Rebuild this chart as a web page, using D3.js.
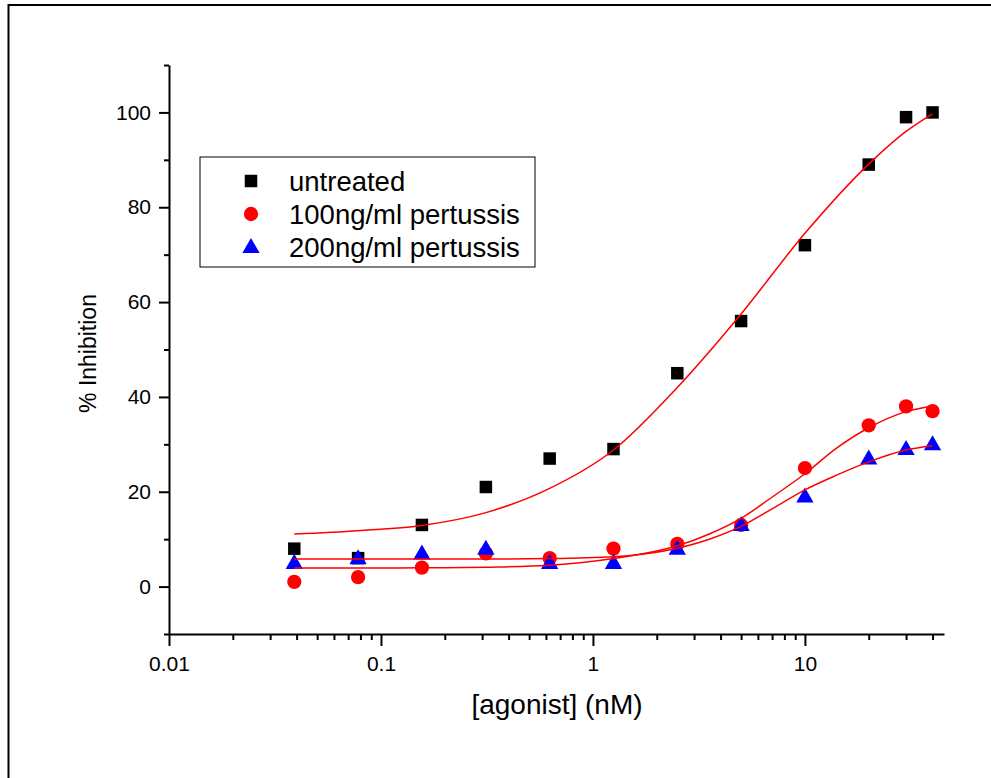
<!DOCTYPE html>
<html>
<head>
<meta charset="utf-8">
<script src="https://cdn.jsdelivr.net/npm/d3@7/dist/d3.min.js"></script>
<style>
  html, body { margin: 0; padding: 0; background: #fff; }
  svg { display: block; font-family: "Liberation Sans", Arial, sans-serif; }
</style>
</head>
<body>
<svg id="chart" width="991" height="778"></svg>
<script>
// ---- data ----
const concentrations = [0.039, 0.078, 0.156, 0.3125, 0.625, 1.25, 2.5, 5, 10, 20, 30, 40];
const untreated     = [8, 6, 13, 21, 27, 29, 45, 56, 72, 89, 99, 100];
const pertussis100  = [1, 2, 4, 7, 6, 8, 9, 13, 25, 34, 38, 37];
const pertussis200  = [5, 6, 7, 8, 5, 5, 8, 13, 19, 27, 29, 30];

// fitted curves
const fitUntreatedX = [0.039, 0.078, 0.156, 0.3125, 0.625, 1.25, 2.5, 5, 10, 20, 30, 40];
const fitUntreatedY = [11.1, 11.8, 12.9, 15.6, 20.7, 28.8, 42, 57.5, 74.5, 89.1, 96, 99.7];
const fit100X = [0.039, 0.078, 0.156, 0.3125, 0.625, 1.25, 2.5, 3.54, 5, 7.07, 10, 14.1, 20, 30, 40];
const fit100Y = [3.9, 3.9, 3.95, 4.1, 4.5, 5.9, 8.6, 11.1, 14.4, 19, 23.8, 29.2, 33.5, 36.9, 38.1];
const fit200X = [0.039, 0.078, 0.156, 0.3125, 0.625, 1.25, 2.5, 3.54, 5, 7.07, 10, 14.1, 20, 30, 40];
const fit200Y = [5.8, 5.8, 5.8, 5.8, 5.9, 6.3, 8.1, 10, 12.7, 16.5, 20.4, 23.5, 26.3, 28.8, 29.7];

const seriesNames = ["untreated", "100ng/ml pertussis", "200ng/ml pertussis"];
const xTickValues = [0.01, 0.1, 1, 10];
const xTickLabels = ["0.01", "0.1", "1", "10"];
const yTickValues = [0, 20, 40, 60, 80, 100];
const yMinorValues = [-10, 10, 30, 50, 70, 90, 110];
const xDomain = [0.01, 45.3];
const yDomain = [-10, 110];
const xTitle = "[agonist] (nM)";
const yTitle = "% Inhibition";

// ---- drawing ----
const svg = d3.select("#chart");
const x = d3.scaleLog().domain(xDomain).range([169, 944]);
const y = d3.scaleLinear().domain(yDomain).range([634, 65]);

// outer frame
svg.append("rect").attr("x", 8.5).attr("y", 5).attr("width", 1000).attr("height", 800)
  .attr("fill", "none").attr("stroke", "#000").attr("stroke-width", 2);

// minor x ticks
const xMinor = [];
[0.01, 0.1, 1, 10].forEach(d => { for (let k = 2; k <= 9; k++) { const v = d * k; if (v <= xDomain[1]) xMinor.push(v); } });

const gx = svg.append("g").attr("transform", `translate(0,${y(-10)})`);
gx.call(d3.axisBottom(x).tickValues(xMinor).tickFormat("").tickSizeInner(6).tickSizeOuter(0));
gx.call(g => g.select(".domain").remove());
const gx2 = svg.append("g").attr("transform", `translate(0,${y(-10)})`);
gx2.call(d3.axisBottom(x).tickValues(xTickValues).tickFormat((d, i) => xTickLabels[i]).tickSizeInner(12).tickSizeOuter(0).tickPadding(10));

const gy = svg.append("g").attr("transform", `translate(${x(0.01)},0)`);
gy.call(d3.axisLeft(y).tickValues(yMinorValues).tickFormat("").tickSizeInner(5).tickSizeOuter(0));
gy.call(g => g.select(".domain").remove());
const gy2 = svg.append("g").attr("transform", `translate(${x(0.01)},0)`);
gy2.call(d3.axisLeft(y).tickValues(yTickValues).tickSizeInner(10).tickSizeOuter(0).tickPadding(8));

svg.selectAll(".domain, .tick line").attr("stroke", "#000").attr("stroke-width", 2);
svg.selectAll(".tick text").attr("font-size", 21).attr("fill", "#000").attr("font-family", "Liberation Sans, Arial, sans-serif");

// axis titles
svg.append("text").attr("x", 557).attr("y", 714).attr("text-anchor", "middle")
  .attr("font-size", 28).text(xTitle);
svg.append("text").attr("transform", `translate(96,${(65 + 634) / 2 + 4}) rotate(-90)`)
  .attr("text-anchor", "middle").attr("font-size", 23).text(yTitle);

// markers
const sq = d3.symbol().type(d3.symbolSquare).size(156);
const ci = d3.symbol().type(d3.symbolCircle).size(160);
const tr = d3.symbol().type(d3.symbolTriangle).size(130);

const pts = (vals) => concentrations.map((c, i) => [c, vals[i]]);

svg.append("g").selectAll("path").data(pts(untreated)).join("path")
  .attr("d", sq).attr("transform", d => `translate(${x(d[0])},${y(d[1])})`).attr("fill", "#000");
svg.append("g").selectAll("path").data(pts(pertussis100)).join("path")
  .attr("d", ci).attr("transform", d => `translate(${x(d[0])},${y(d[1])})`).attr("fill", "#ff0000");
svg.append("g").selectAll("path").data(pts(pertussis200)).join("path")
  .attr("d", tr).attr("transform", d => `translate(${x(d[0])},${y(d[1]) + 1})`).attr("fill", "#0000ff");

// fitted curves
const line = d3.line().x(d => x(d[0])).y(d => y(d[1])).curve(d3.curveMonotoneX);
[[fitUntreatedX, fitUntreatedY], [fit100X, fit100Y], [fit200X, fit200Y]].forEach(([xs, ys]) => {
  svg.append("path").datum(xs.map((v, i) => [v, ys[i]]))
    .attr("d", line).attr("fill", "none").attr("stroke", "#ff0000").attr("stroke-width", 1.5);
});

// legend
const lg = svg.append("g");
lg.append("rect").attr("x", 200).attr("y", 157).attr("width", 335).attr("height", 110)
  .attr("fill", "#fff").attr("stroke", "#000").attr("stroke-width", 1);
const legendSyms = [sq, ci, tr];
const legendCols = ["#000", "#ff0000", "#0000ff"];
const rowY = [181, 214, 247];
seriesNames.forEach((name, i) => {
  lg.append("path").attr("d", legendSyms[i]).attr("fill", legendCols[i])
    .attr("transform", `translate(251,${rowY[i] + (i === 2 ? 1 : 0)})`);
  lg.append("text").attr("x", 289).attr("y", rowY[i] + 9.5).attr("font-size", 27.5).text(name);
});
</script>
</body>
</html>
